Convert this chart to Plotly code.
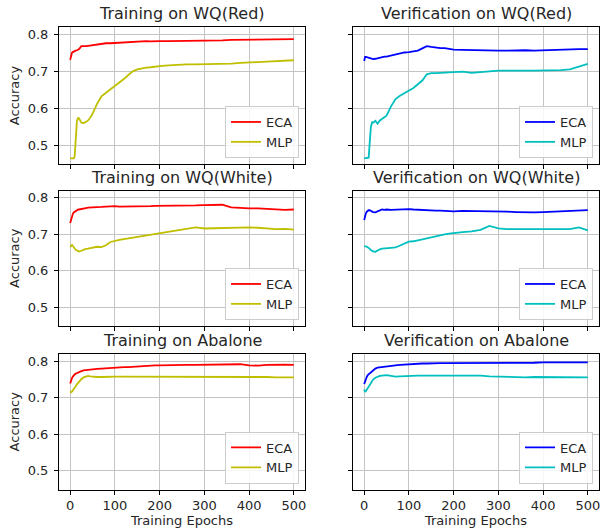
import plotly.graph_objects as go

epochs = [0, 2, 4, 6, 8, 10, 12, 15, 18, 20, 25, 30, 35, 40, 45, 50, 60, 70, 80, 90,
          100, 110, 120, 130, 140, 150, 160, 170, 180, 190, 200, 220, 240, 260, 280,
          300, 320, 340, 360, 380, 400, 420, 440, 460, 480, 500]

tr_red_eca = [0.731, 0.745, 0.750, 0.752, 0.754, 0.755, 0.756, 0.757, 0.758, 0.760, 0.768, 0.767, 0.768, 0.769, 0.770, 0.772, 0.773, 0.775, 0.776, 0.776,
              0.777, 0.778, 0.779, 0.780, 0.781, 0.781, 0.781, 0.782, 0.781, 0.782, 0.782, 0.782, 0.782, 0.783, 0.783,
              0.783, 0.784, 0.784, 0.785, 0.785, 0.785, 0.785, 0.786, 0.786, 0.787, 0.787]
tr_red_mlp = [0.464, 0.464, 0.464, 0.464, 0.464, 0.470, 0.520, 0.565, 0.575, 0.572, 0.561, 0.560, 0.563, 0.567, 0.575, 0.585, 0.612, 0.632, 0.642, 0.651,
              0.661, 0.670, 0.679, 0.690, 0.700, 0.705, 0.708, 0.710, 0.711, 0.713, 0.714, 0.716, 0.718, 0.719, 0.719,
              0.719, 0.720, 0.719, 0.721, 0.723, 0.725, 0.725, 0.726, 0.727, 0.728, 0.730]
ve_red_eca = [0.728, 0.739, 0.739, 0.738, 0.737, 0.736, 0.735, 0.734, 0.733, 0.733, 0.734, 0.736, 0.737, 0.738, 0.740, 0.740, 0.743, 0.746, 0.749, 0.751,
              0.752, 0.754, 0.756, 0.762, 0.768, 0.766, 0.764, 0.763, 0.763, 0.761, 0.759, 0.758, 0.757, 0.756, 0.756,
              0.756, 0.756, 0.757, 0.757, 0.756, 0.757, 0.758, 0.759, 0.760, 0.760, 0.760]
ve_red_mlp = [0.464, 0.464, 0.464, 0.464, 0.464, 0.466, 0.500, 0.550, 0.562, 0.561, 0.566, 0.558, 0.567, 0.571, 0.575, 0.580, 0.605, 0.625, 0.634, 0.641,
              0.648, 0.655, 0.665, 0.675, 0.692, 0.695, 0.695, 0.696, 0.696, 0.696, 0.697, 0.699, 0.696, 0.698, 0.702,
              0.702, 0.702, 0.701, 0.702, 0.702, 0.702, 0.702, 0.703, 0.705, 0.712, 0.720]
tr_white_eca = [0.731, 0.742, 0.750, 0.756, 0.760, 0.762, 0.764, 0.766, 0.768, 0.768, 0.770, 0.771, 0.772, 0.773, 0.773, 0.774, 0.774, 0.775, 0.776, 0.777,
                0.777, 0.776, 0.776, 0.775, 0.775, 0.775, 0.776, 0.777, 0.777, 0.778, 0.778, 0.777, 0.777, 0.778, 0.779,
                0.780, 0.781, 0.781, 0.774, 0.772, 0.771, 0.771, 0.769, 0.767, 0.767, 0.768]
tr_white_mlp = [0.665, 0.670, 0.671, 0.668, 0.664, 0.661, 0.658, 0.656, 0.654, 0.653, 0.655, 0.658, 0.660, 0.661, 0.662, 0.662, 0.666, 0.665, 0.670, 0.679,
                0.683, 0.685, 0.687, 0.689, 0.691, 0.692, 0.694, 0.697, 0.699, 0.701, 0.704, 0.708, 0.711, 0.714, 0.719,
                0.716, 0.717, 0.717, 0.717, 0.718, 0.719, 0.718, 0.716, 0.714, 0.715, 0.713]
ve_white_eca = [0.739, 0.750, 0.758, 0.762, 0.765, 0.766, 0.766, 0.764, 0.762, 0.761, 0.760, 0.763, 0.766, 0.768, 0.767, 0.768, 0.767, 0.768, 0.768, 0.768,
                0.769, 0.768, 0.767, 0.766, 0.766, 0.766, 0.765, 0.765, 0.764, 0.764, 0.763, 0.764, 0.764, 0.763, 0.763,
                0.762, 0.762, 0.761, 0.760, 0.760, 0.761, 0.762, 0.763, 0.764, 0.765, 0.766]
ve_white_mlp = [0.667, 0.668, 0.667, 0.666, 0.665, 0.664, 0.661, 0.657, 0.654, 0.653, 0.652, 0.656, 0.659, 0.661, 0.661, 0.662, 0.663, 0.664, 0.670, 0.676,
                0.680, 0.681, 0.684, 0.686, 0.690, 0.693, 0.695, 0.698, 0.700, 0.702, 0.704, 0.706, 0.708, 0.712, 0.723,
                0.716, 0.714, 0.714, 0.714, 0.713, 0.713, 0.712, 0.713, 0.714, 0.719, 0.711]
tr_aba_eca = [0.739, 0.748, 0.754, 0.758, 0.762, 0.764, 0.766, 0.768, 0.770, 0.771, 0.773, 0.775, 0.776, 0.777, 0.777, 0.778, 0.779, 0.780, 0.781, 0.782,
              0.783, 0.783, 0.784, 0.784, 0.785, 0.785, 0.786, 0.787, 0.788, 0.789, 0.789, 0.790, 0.790, 0.790, 0.790,
              0.790, 0.790, 0.791, 0.791, 0.792, 0.789, 0.788, 0.790, 0.791, 0.791, 0.790]
tr_aba_mlp = [0.718, 0.715, 0.717, 0.720, 0.724, 0.727, 0.731, 0.737, 0.742, 0.745, 0.751, 0.756, 0.759, 0.760, 0.759, 0.758, 0.757, 0.757, 0.758, 0.758,
              0.758, 0.758, 0.758, 0.758, 0.758, 0.758, 0.759, 0.759, 0.759, 0.759, 0.759, 0.759, 0.759, 0.758, 0.758,
              0.758, 0.758, 0.758, 0.757, 0.757, 0.757, 0.757, 0.757, 0.756, 0.756, 0.756]
ve_aba_eca = [0.738, 0.747, 0.754, 0.758, 0.762, 0.764, 0.767, 0.771, 0.774, 0.775, 0.780, 0.783, 0.784, 0.785, 0.785, 0.786, 0.788, 0.789, 0.790, 0.791,
              0.791, 0.792, 0.793, 0.794, 0.794, 0.795, 0.795, 0.795, 0.795, 0.795, 0.795, 0.795, 0.795, 0.795, 0.795,
              0.795, 0.795, 0.794, 0.795, 0.796, 0.797, 0.797, 0.798, 0.798, 0.797, 0.797]
ve_aba_mlp = [0.723, 0.716, 0.719, 0.723, 0.728, 0.732, 0.737, 0.743, 0.748, 0.750, 0.755, 0.758, 0.760, 0.761, 0.762, 0.762, 0.760, 0.758, 0.759, 0.760,
              0.760, 0.761, 0.761, 0.761, 0.761, 0.762, 0.762, 0.762, 0.762, 0.762, 0.762, 0.762, 0.762, 0.761, 0.759,
              0.758, 0.756, 0.756, 0.756, 0.757, 0.757, 0.757, 0.756, 0.756, 0.756, 0.756]

titles = ["Training on WQ(Red)", "Verification on WQ(Red)",
          "Training on WQ(White)", "Verification on WQ(White)",
          "Training on Abalone", "Verification on Abalone"]
panels = [(tr_red_eca, tr_red_mlp), (ve_red_eca, ve_red_mlp),
          (tr_white_eca, tr_white_mlp), (ve_white_eca, ve_white_mlp),
          (tr_aba_eca, tr_aba_mlp), (ve_aba_eca, ve_aba_mlp)]
series_names = ["ECA", "MLP"]
x_ticks = [0, 100, 200, 300, 400, 500]
y_ticks = [0.5, 0.6, 0.7, 0.8]

W, H = 601, 532
col_px = [(59, 305), (353, 599)]
row_px = [(27, 164), (190.5, 326), (354, 489.5)]
FONT = "DejaVu Sans"
FS = 13
TXT = "#262626"

fig = go.Figure()
layout = dict(width=W, height=H, margin=dict(l=0, r=0, t=0, b=0),
              paper_bgcolor="white", plot_bgcolor="white",
              font=dict(family=FONT, size=FS, color=TXT),
              annotations=[])

for i, (eca, mlp) in enumerate(panels):
    r, c = divmod(i, 2)
    n = "" if i == 0 else str(i + 1)
    train = (c == 0)
    colors = ("#ff0000", "#bfbf00") if train else ("#0000ff", "#00bfbf")
    lg = "legend" + n
    for vals, name, col in zip((eca, mlp), series_names, colors):
        fig.add_trace(go.Scatter(x=epochs, y=vals, mode="lines", name=name,
                                 line=dict(color=col, width=1.8),
                                 xaxis="x" + n, yaxis="y" + n, legend=lg))
    x0, x1 = col_px[c]
    y0, y1 = row_px[r]
    common = dict(showline=True, mirror=True, linecolor="black", linewidth=1,
                  showgrid=True, gridcolor="#c4c4c4", gridwidth=1,
                  ticks="outside", ticklen=4, tickcolor="black", zeroline=False,
                  tickfont=dict(family=FONT, size=FS, color=TXT))
    xa = dict(common, domain=[x0 / W, x1 / W], anchor="y" + n, range=[-25, 525],
              tickvals=x_ticks, showticklabels=(r == 2), ticklabelstandoff=0)
    if r == 2:
        xa["title"] = dict(text="Training Epochs", font=dict(family=FONT, size=FS, color=TXT), standoff=3)
    ya = dict(common, domain=[1 - y1 / H, 1 - y0 / H], anchor="x" + n, range=[0.449, 0.82],
              tickvals=y_ticks, tickformat=".1f", showticklabels=(c == 0), ticklabelstandoff=3)
    if c == 0:
        ya["title"] = dict(text="Accuracy", font=dict(family=FONT, size=FS, color=TXT), standoff=5)
    layout["xaxis" + n] = xa
    layout["yaxis" + n] = ya
    layout[lg] = dict(x=(x1 - 6) / W, xanchor="right", y=1 - (y1 - 6) / H, yanchor="bottom",
                      bgcolor="rgba(255,255,255,0.85)", bordercolor="#cccccc", borderwidth=1,
                      font=dict(family=FONT, size=FS, color=TXT),
                      tracegroupgap=0, itemwidth=30)
    layout["annotations"].append(dict(text=titles[i], x=(x0 + x1) / 2 / W, y=1 - (y0 - 2) / H,
                                      xref="paper", yref="paper", xanchor="center", yanchor="bottom",
                                      showarrow=False, font=dict(family=FONT, size=16, color=TXT)))

fig.update_layout(**layout)
fig.write_html("out.html", config={"displayModeBar": False},
               post_script="document.body.style.margin='0';document.body.style.overflow='hidden';")
